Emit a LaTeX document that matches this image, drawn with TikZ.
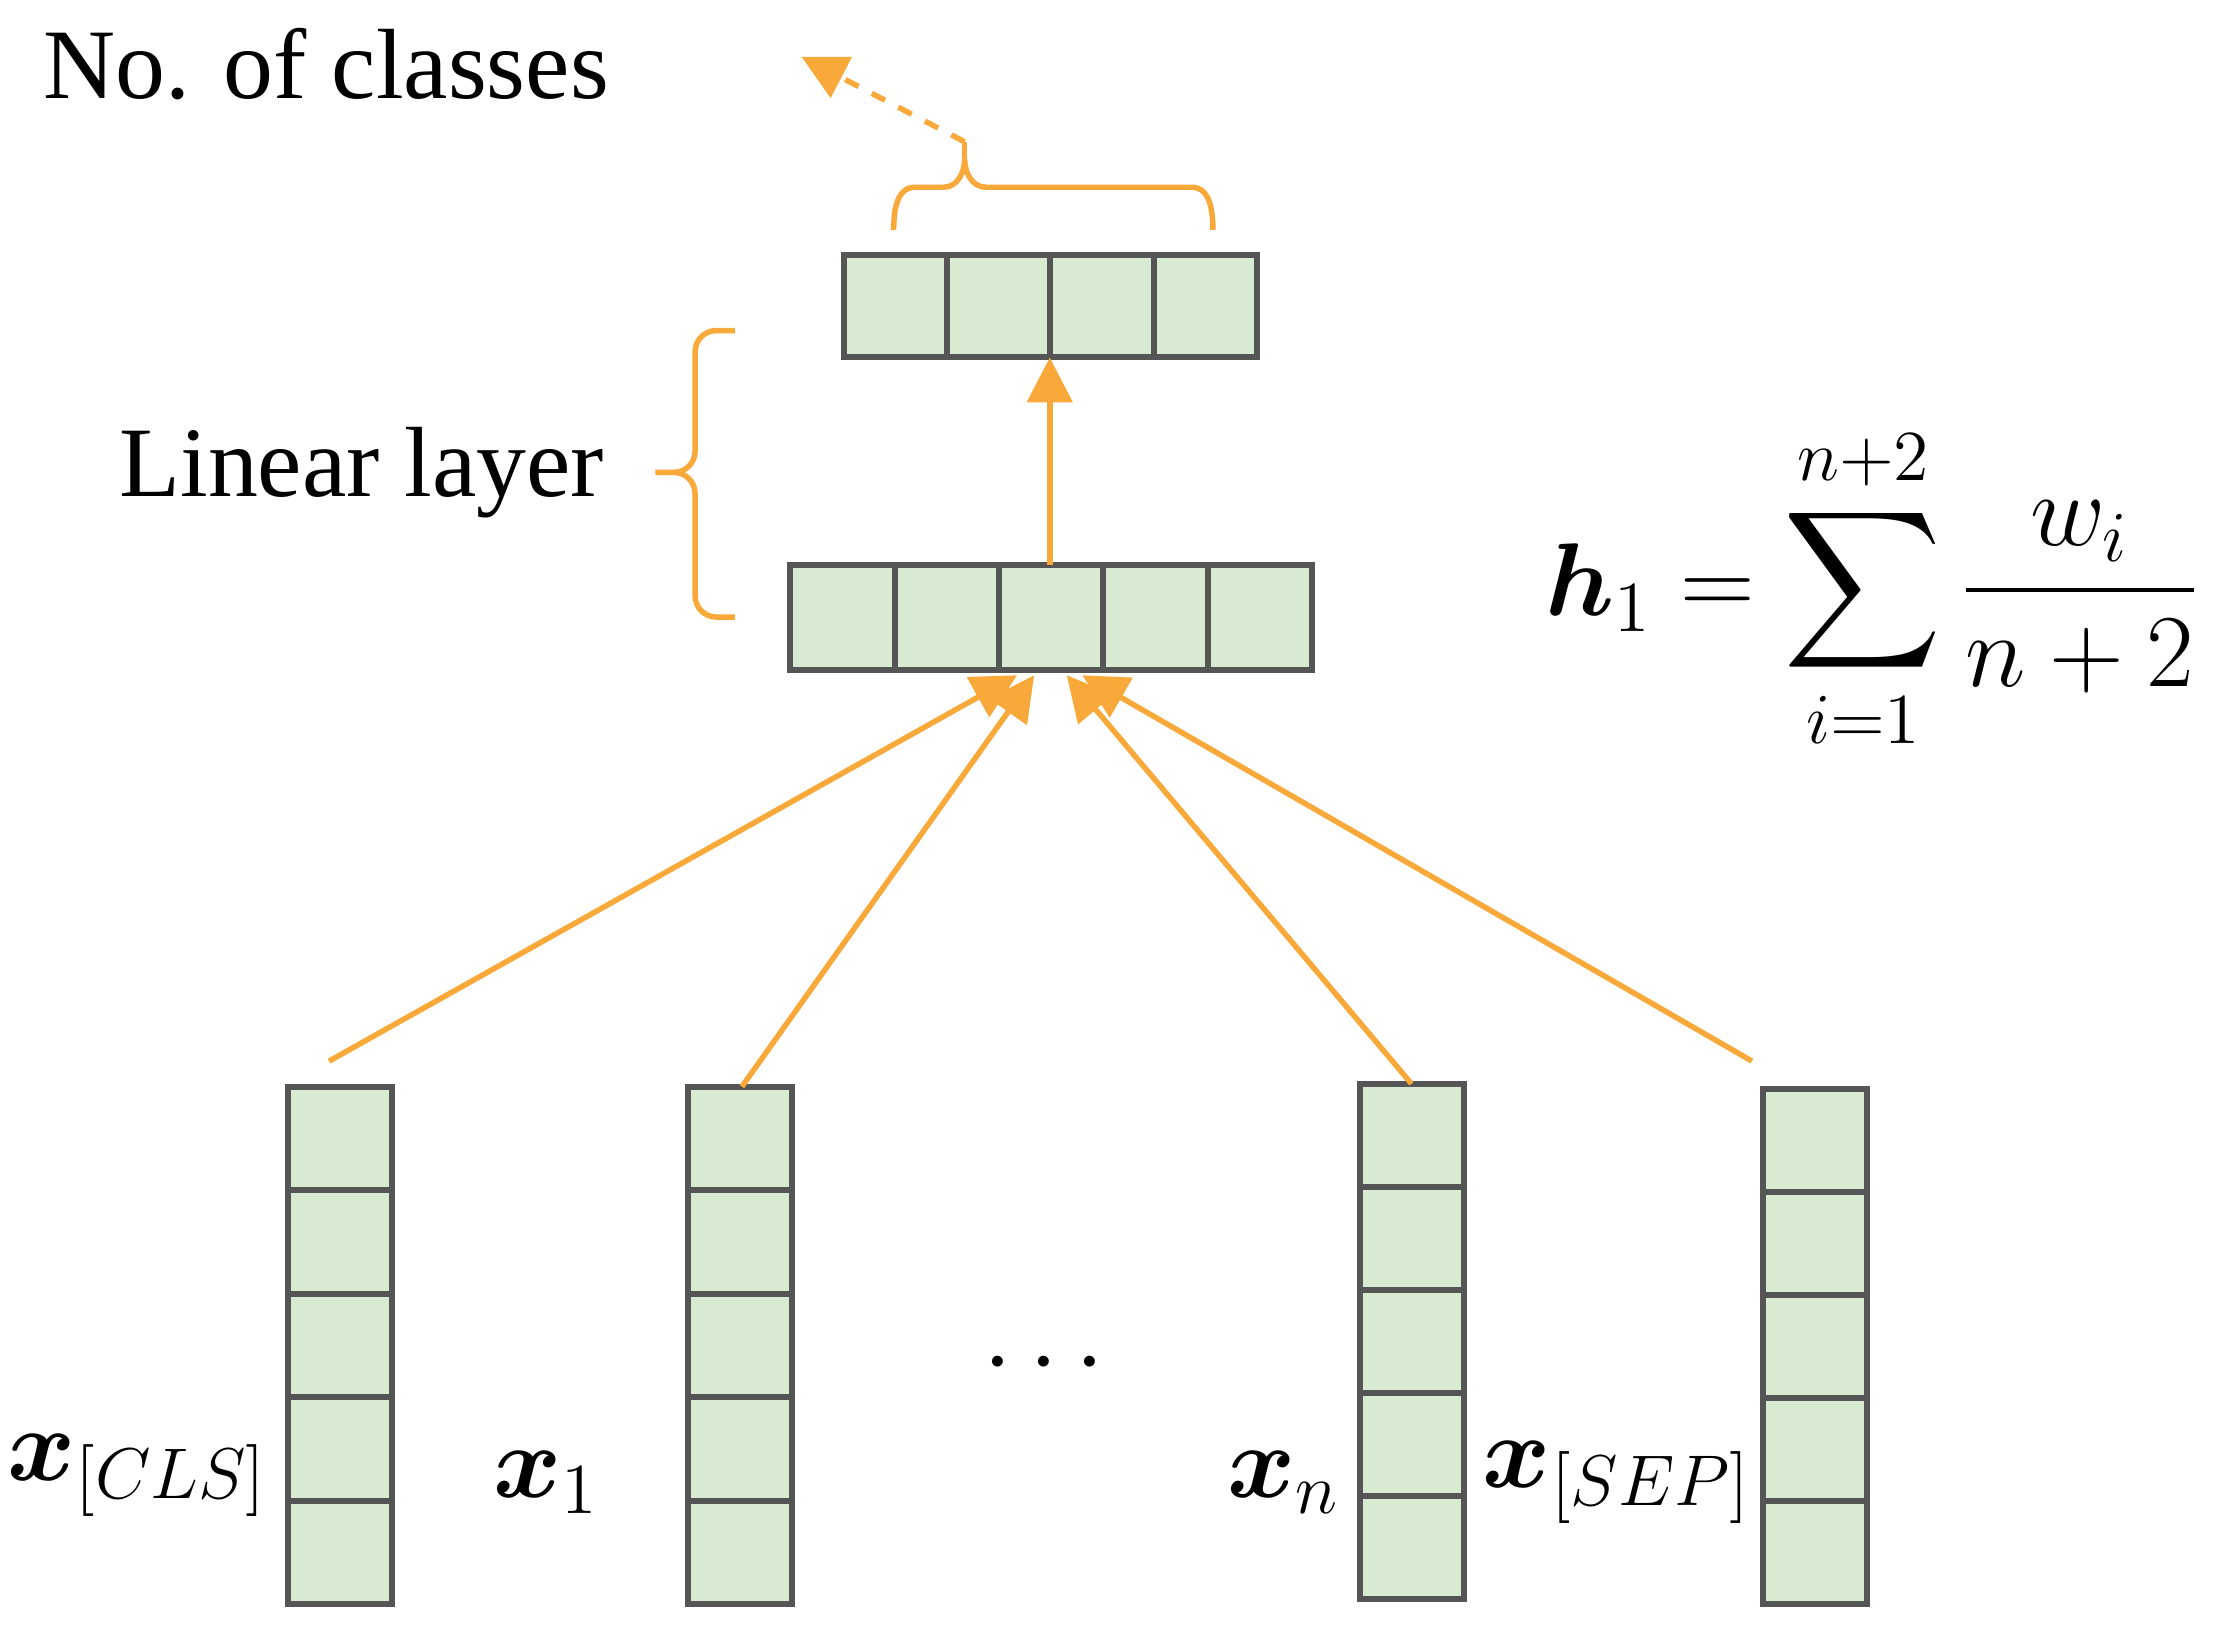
\documentclass[tikz,border=0pt]{standalone}
\usepackage{amsmath,amssymb,bm}
\usepackage{fontspec}
\setmainfont{Liberation Serif}
\usetikzlibrary{arrows.meta}
\definecolor{org}{HTML}{F9A83A}
\definecolor{cellg}{HTML}{D9EAD3}
\definecolor{bord}{HTML}{555555}
\begin{document}
\begin{tikzpicture}[x=0.01cm,y=-0.01cm,
 cell/.style={draw=bord,fill=cellg,line width=1.2pt},
 arr/.style={draw=org,line width=1.1pt,-{Triangle[length=9pt,width=9pt]}},
 br/.style={draw=org,line width=1.1pt},
 txt/.style={font=\fontsize{20}{24}\selectfont}]
\useasboundingbox (0,0) rectangle (1560,1146);
\foreach \i in {0,...,3}{\draw[cell] ({595+\i*72.75},180) rectangle ({595+(\i+1)*72.75},252);}
\coordinate (topb) at (740,252);
\foreach \i in {0,...,4}{\draw[cell] ({557+\i*73.6},398) rectangle ({557+(\i+1)*73.6},472);}
\coordinate (midt) at (740,398);
\foreach \x/\t/\b in {203/766/1131,485/766/1131,959/764/1127,1243/768/1131}{
 \foreach \j in {0,...,4}{\draw[cell] (\x,{\t+\j*(\b-\t)/5}) rectangle ({\x+73},{\t+(\j+1)*(\b-\t)/5});}}
\coordinate (c1) at (232,748); \coordinate (c2) at (523,766);
\coordinate (c3) at (995,764); \coordinate (c4) at (1235,748);
\coordinate (m1) at (717,476); \coordinate (m2) at (729,476);
\coordinate (m3) at (752,476); \coordinate (m4) at (763,476);
\draw[arr] (c1)--(m1); \draw[arr] (c2)--(m2);
\draw[arr] (c3)--(m3); \draw[arr] (c4)--(m4);
\draw[arr] (midt)--(topb);
\draw[br] (630,162) to[out=90,in=180] (645,132) -- (665,132) to[out=0,in=-90] (680,112) to[out=-90,in=180] (695,132) -- (840,132) to[out=0,in=90] (855,162);
\coordinate (bt) at (680,100); \coordinate (nc) at (565,40);
\draw[org,line width=1.1pt] (680,112)--(bt);
\draw[draw=org,line width=1.1pt,dashed,-{Triangle[length=9pt,width=9pt]}] (bt)--(nc);
\draw[br] (518,233) -- (505,233) to[out=180,in=90] (490,248) -- (490,318) to[out=-90,in=0] (475,333) -- (462,333);
\draw[br] (475,333) to[out=0,in=90] (490,348) -- (490,420) to[out=-90,in=180] (505,435) -- (518,435);
\node[txt] (nocl) at (230,45) {No. of classes};
\node[txt] (lin) at (255,333) {Linear layer};
\node[font=\fontsize{22}{26}\selectfont] (eq) at (1320,415) {$\bm{h}_1=\displaystyle\sum_{i=1}^{n+2}\frac{w_i}{n+2}$};
\node[font=\fontsize{22}{26}\selectfont] (l1) at (97,1040) {$\bm{x}_{[CLS]}$};
\node[font=\fontsize{22}{26}\selectfont] (l2) at (385,1045) {$\bm{x}_1$};
\node[font=\fontsize{22}{26}\selectfont] (l3) at (742,962) {$\cdots$};
\node[font=\fontsize{22}{26}\selectfont] (l4) at (905,1045) {$\bm{x}_n$};
\node[font=\fontsize{22}{26}\selectfont] (l5) at (1140,1045) {$\bm{x}_{[SEP]}$};
\end{tikzpicture}
\end{document}
